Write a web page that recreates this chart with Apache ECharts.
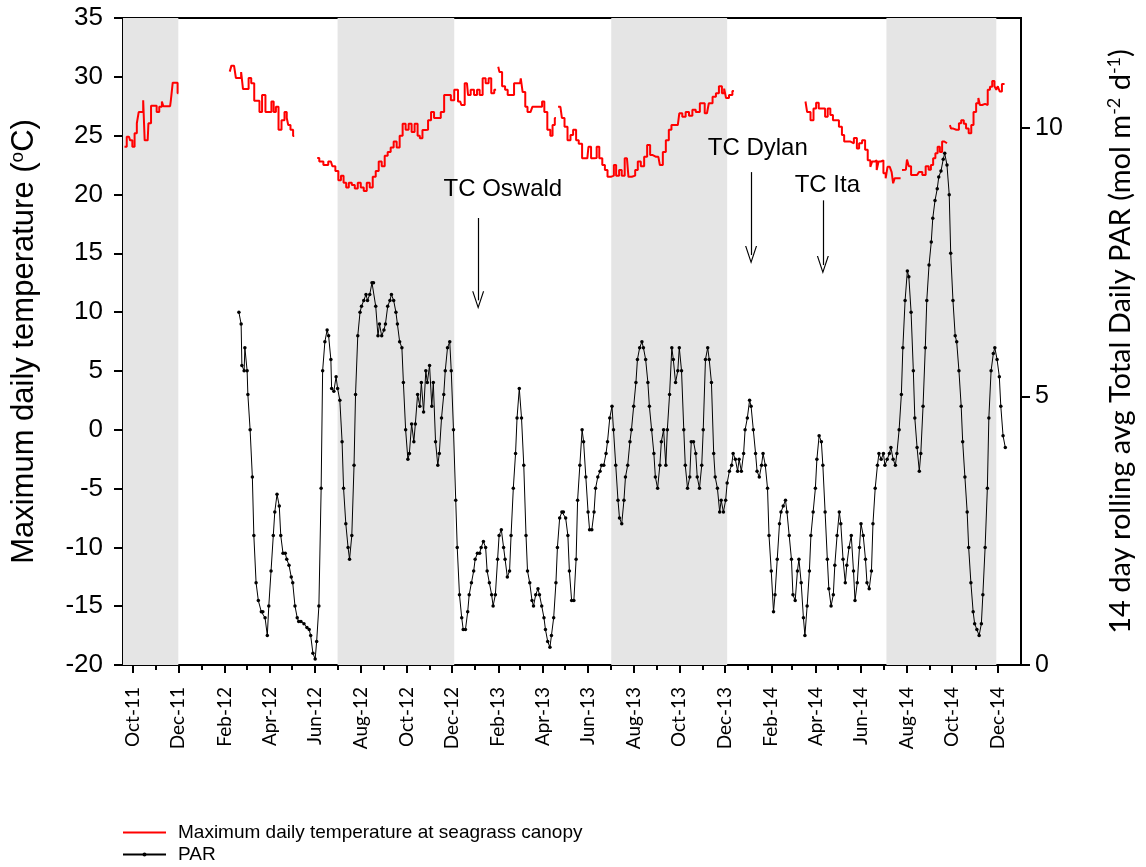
<!DOCTYPE html>
<html>
<head>
<meta charset="utf-8">
<script src="https://cdn.jsdelivr.net/npm/echarts@6/dist/echarts.min.js"></script>
<style>
html, body { margin: 0; padding: 0; background: #fff; }
#chart { width: 1146px; height: 867px; }
</style>
</head>
<body>
<div id="chart"></div>
<script>
// Day numbers count from 1 October 2011 (day 0).
// Maximum daily temperature at the seagrass canopy (deg C); null marks the edges of logger gaps.
const tempDay = [
  -11, -5, -2, 1, 4, 7, 9, 13, 15, 17, 20, 22, 27, 31, 33, 38, 40, 42, 50, 52, 55, 59, 61,
  61.5, 129.5,
  130, 134, 137, 139, 144, 146, 149, 153, 157, 160, 165, 168, 171, 175, 180, 184, 187, 190, 193, 197, 201, 205, 207, 209, 213, 216,
  216.5, 246.5,
  247, 252, 258, 265, 269, 273, 277, 280, 284, 287, 291, 295, 299, 303, 307, 311, 315, 319, 323, 327, 331, 335, 339, 343, 347, 351, 355, 359, 363, 367, 371, 375, 379, 383, 385, 390, 393, 397, 401, 405, 410, 414, 419, 423, 428, 432, 438, 441, 447, 450, 454, 459, 462, 466, 470, 474, 478, 481, 486,
  486.3, 488.7,
  489, 492, 496, 500, 503, 508, 512, 518, 520, 523, 527, 529, 532, 537, 541, 546, 549, 552, 557, 560, 563, 566,
  566.3, 568.7,
  569, 572, 576, 579, 584, 587, 591, 595, 598, 604, 608, 611, 615, 619, 622, 626, 630, 633, 637, 642, 645, 648, 653, 655, 661, 665, 670, 674, 677, 682, 686, 690, 694, 697, 703, 707, 711, 715, 719, 722, 729, 733, 737, 742, 746, 751, 755, 762, 768, 773, 778, 782, 786, 790, 792, 795, 800, 804,
  804.5, 899.5,
  900, 904, 909, 912, 916, 919, 924, 928, 931, 935, 938, 942, 947, 950, 953, 958, 962, 967, 970, 973, 978, 981, 985, 988, 990, 994, 996, 999, 1002, 1006, 1008, 1011, 1014, 1016, 1018, 1020, 1027,
  1027.3, 1028.7,
  1029, 1034, 1037, 1039, 1043, 1049, 1054, 1058, 1063, 1066, 1069, 1072, 1075, 1078, 1081, 1084, 1087, 1089,
  1089.3, 1092.7,
  1093, 1096, 1099, 1104, 1106, 1110, 1113, 1116, 1120, 1123, 1126, 1130, 1132, 1134, 1138, 1142, 1145, 1148, 1151, 1154, 1156, 1158, 1161, 1164, 1166
];
const tempC = [
  24.05, 24.9, 24.6, 24.05, 25.2, 26.05, 27.0, 27.0, 28.0, 24.6, 24.6, 26.05, 27.55, 27.55, 27.0, 27.45, 27.9, 27.5, 27.5, 28.0, 29.5, 29.5, 28.6,
  null, null,
  30.44, 30.95, 30.95, 29.9, 29.9, 30.4, 28.96, 28.96, 29.9, 29.45, 27.97, 27.97, 27.0, 28.45, 27.0, 27.0, 27.9, 27.0, 27.45, 25.5, 26.3, 27.0, 26.5, 25.9, 25.5, 24.97,
  null, null,
  23.1, 22.8, 22.5, 22.8, 22.4, 22.0, 21.2, 21.6, 21.0, 20.6, 21.0, 20.8, 20.5, 21.0, 20.6, 20.3, 21.0, 20.6, 21.5, 22.0, 22.8, 22.4, 23.3, 23.6, 24.0, 24.5, 24.0, 25.0, 26.0, 25.5, 26.0, 25.3, 26.0, 25.0, 24.77, 25.48, 25.5, 26.3, 27.0, 26.5, 26.5, 27.0, 28.45, 28.45, 28.0, 28.9, 27.9, 27.6, 29.45, 28.45, 28.9, 28.45, 28.9, 28.45, 29.87, 29.45, 29.87, 28.6, 28.9,
  null, null,
  30.86, 30.4, 29.2, 28.9, 28.45, 28.45, 29.45, 29.45, 29.87, 28.7, 27.45, 27.0, 27.0, 27.45, 27.45, 27.45, 27.9, 27.0, 25.5, 25.0, 25.9, 26.5,
  null, null,
  27.45, 27.45, 26.5, 25.75, 24.6, 25.05, 25.5, 24.6, 24.3, 23.07, 23.07, 24.05, 23.07, 23.1, 24.05, 23.07, 22.5, 22.08, 21.5, 21.6, 22.5, 21.6, 22.08, 21.6, 23.07, 21.5, 21.6, 22.08, 22.8, 22.4, 23.2, 24.2, 23.35, 23.2, 23.2, 22.5, 23.6, 24.6, 25.5, 25.9, 25.9, 26.9, 26.6, 27.0, 26.7, 27.2, 27.0, 27.75, 26.9, 27.75, 28.3, 28.6, 29.2, 28.6, 29.0, 28.2, 28.45, 28.8,
  null, null,
  27.9, 27.0, 26.3, 27.3, 27.8, 27.3, 27.3, 26.6, 27.3, 26.75, 26.3, 26.3, 25.76, 25.05, 24.5, 24.5, 24.35, 24.8, 23.9, 24.35, 24.6, 23.8, 22.9, 22.35, 22.8, 22.9, 22.08, 22.8, 22.9, 21.8, 21.37, 22.35, 22.35, 21.9, 20.95, 21.37, 21.37,
  null, null,
  22.08, 22.1, 22.97, 22.4, 21.65, 21.65, 21.9, 21.65, 22.4, 22.1, 22.5, 23.07, 23.5, 24.05, 23.6, 24.5, 24.5, 24.35,
  null, null,
  25.9, 25.6, 25.5, 25.5, 26.05, 26.3, 26.0, 25.6, 25.2, 25.9, 27.0, 27.75, 28.2, 27.6, 27.7, 27.6, 28.9, 29.15, 29.65, 29.2, 28.9, 29.2, 28.75, 29.4, 29.4
];

// 14 day rolling average of total daily PAR (mol m-2 d-1).
const parDay = [
  142, 145, 146, 149, 150, 153, 154, 157, 160, 162, 165, 168, 172, 174, 177, 180, 182, 185, 188, 190, 193, 196, 198, 201, 204, 206, 209, 212, 214, 217, 220, 222, 225, 229, 233, 236, 238, 241, 244, 246, 249, 252, 254, 257, 260, 262, 265, 266, 269, 272, 274, 277, 280, 282, 285, 288, 290, 293, 296, 298,
  301, 304, 306, 309, 312, 314, 317, 320, 322, 325, 328, 330, 333, 336, 338, 341, 344, 346, 349, 352, 354, 357, 360, 362, 365, 368, 370, 373, 376, 378, 381, 384, 386, 389, 392, 394, 397, 400, 402, 405, 408, 410, 413, 416, 418, 421, 424, 426, 429, 432, 434, 437, 440, 442, 445, 448, 450, 453, 456, 458,
  461, 464, 466, 469, 472, 474, 477, 480, 482, 485, 488, 490, 493, 496, 498, 501, 504, 506, 509, 512, 514, 517, 520, 523, 526, 528, 531, 534, 536, 539, 542, 544, 547, 550, 552, 555, 558, 560, 563, 566, 568, 571, 574, 576, 579, 582, 584, 587, 590, 593, 595, 598, 601, 603, 606, 609, 611, 614, 617, 619,
  622, 625, 627, 630, 633, 635, 638, 641, 643, 646, 649, 651, 654, 657, 659, 662, 665, 667, 670, 673, 675, 678, 681, 683, 686, 689, 691, 694, 697, 699, 702, 705, 707, 710, 713, 715, 718, 721, 723, 726, 729, 731, 734, 737, 739, 742, 745, 747, 750, 753, 755, 758, 761, 763, 766, 769, 771, 774, 777, 779,
  782, 785, 787, 790, 793, 795, 798, 801, 803, 806, 809, 811, 814, 817, 819, 822, 825, 827, 830, 833, 835, 838, 841, 843, 846, 849, 851, 854, 857, 859, 862, 865, 867, 870, 873, 875, 878, 881, 883, 886, 889, 891, 894, 897, 899, 902, 905, 907, 910, 913, 915, 918, 921, 923, 926, 929, 931, 934, 937, 939,
  942, 945, 947, 950, 953, 955, 958, 961, 964, 966, 969, 972, 974, 977, 980, 982, 985, 988, 990, 993, 996, 998, 1001, 1004, 1006, 1009, 1012, 1014, 1017, 1020, 1022, 1025, 1028, 1030, 1033, 1036, 1038, 1041, 1044, 1046, 1049, 1052, 1054, 1057, 1060, 1062, 1065, 1068, 1070, 1073, 1076, 1078, 1081, 1084, 1086, 1089, 1092, 1094, 1097, 1100,
  1102, 1105, 1108, 1110, 1113, 1116, 1118, 1121, 1124, 1126, 1129, 1132, 1135, 1137, 1140, 1143, 1145, 1148, 1151, 1153, 1156, 1159, 1161, 1164, 1167
];
const parValue = [
  6.57, 6.35, 5.58, 5.48, 5.91, 5.48, 5.04, 4.38, 3.50, 2.41, 1.53, 1.20, 0.99, 0.99, 0.88, 0.55, 1.10, 1.75, 2.41, 2.85, 3.18, 2.96, 2.41, 2.08, 2.08, 1.97, 1.86, 1.64, 1.53, 1.10, 0.88, 0.81, 0.81, 0.77, 0.70, 0.66, 0.55, 0.22, 0.11, 0.44, 1.10, 3.29, 5.48, 6.02, 6.24, 6.13, 5.69, 5.15, 5.10, 5.37, 5.15, 4.93, 4.16, 3.29, 2.63, 2.19, 1.97, 2.41, 3.72, 5.04,
  6.13, 6.57, 6.68, 6.79, 6.90, 6.79, 6.90, 7.12, 7.12, 6.68, 6.13, 6.35, 6.13, 6.24, 6.35, 6.68, 6.79, 6.90, 6.79, 6.57, 6.35, 6.02, 5.91, 5.26, 4.38, 3.83, 3.94, 4.49, 4.16, 4.49, 5.04, 4.82, 5.26, 4.71, 5.48, 5.26, 5.58, 4.82, 5.26, 4.16, 3.72, 3.94, 4.60, 5.04, 5.48, 5.91, 6.02, 5.48, 4.38, 3.07, 2.19, 1.31, 0.88, 0.66, 0.66, 0.99, 1.31, 1.53, 1.75, 1.97,
  2.08, 2.08, 2.19, 2.30, 2.19, 1.75, 1.53, 1.31, 1.10, 1.31, 1.97, 2.41, 2.52, 2.19, 1.97, 1.64, 1.75, 2.41, 3.29, 3.94, 4.60, 5.15, 4.60, 3.72, 2.41, 1.75, 1.53, 1.20, 1.10, 1.31, 1.42, 1.31, 1.10, 0.88, 0.66, 0.44, 0.33, 0.55, 0.88, 1.53, 2.19, 2.74, 2.85, 2.85, 2.74, 2.41, 1.75, 1.20, 1.20, 1.97, 3.07, 3.72, 4.38, 4.16, 3.50, 2.85, 2.52, 2.52, 2.85, 3.29,
  3.50, 3.61, 3.72, 3.72, 3.94, 4.16, 4.60, 4.82, 4.38, 3.72, 3.07, 2.74, 2.63, 3.07, 3.50, 3.72, 4.16, 4.38, 4.82, 5.26, 5.69, 5.91, 6.02, 5.91, 5.69, 5.26, 4.82, 4.38, 3.94, 3.50, 3.29, 3.72, 4.16, 4.38, 3.72, 4.38, 5.04, 5.91, 5.69, 5.26, 5.48, 5.91, 5.48, 4.38, 3.72, 3.29, 3.50, 4.16, 4.16, 3.94, 3.50, 3.29, 3.72, 4.38, 5.69, 5.91, 5.69, 5.26, 3.94, 3.50,
  3.29, 2.85, 3.07, 2.85, 3.07, 3.39, 3.61, 3.72, 3.94, 3.83, 3.61, 3.83, 3.61, 3.94, 4.38, 4.60, 4.93, 4.82, 4.38, 3.94, 3.61, 3.50, 3.72, 3.94, 3.72, 3.29, 2.41, 1.75, 0.99, 1.31, 1.97, 2.63, 2.85, 2.96, 3.07, 2.85, 2.41, 1.97, 1.31, 1.20, 1.75, 1.97, 1.53, 0.88, 0.55, 1.10, 1.75, 2.41, 2.85, 3.29, 3.83, 4.27, 4.16, 3.72, 2.85, 1.97, 1.42, 1.10, 1.31, 1.86,
  2.41, 2.85, 2.63, 1.97, 1.53, 1.86, 2.19, 2.41, 1.75, 1.20, 1.53, 2.19, 2.63, 2.41, 1.97, 1.53, 1.42, 1.75, 2.63, 3.29, 3.72, 3.94, 3.83, 3.94, 3.72, 3.83, 3.94, 4.05, 3.83, 3.72, 3.94, 4.38, 5.04, 5.91, 6.79, 7.34, 7.23, 6.57, 5.48, 4.60, 4.05, 3.61, 3.94, 4.82, 5.91, 6.79, 7.45, 7.88, 8.32, 8.65, 8.87, 9.09, 9.20, 9.42, 9.53, 9.31, 8.76, 7.67, 6.79, 6.13,
  6.02, 5.48, 4.82, 4.16, 3.50, 2.85, 2.19, 1.53, 0.99, 0.77, 0.66, 0.55, 0.77, 1.31, 2.19, 3.29, 4.60, 5.48, 5.80, 5.91, 5.69, 5.37, 4.82, 4.27, 4.05
];

// Axis ticks: labelled every second month, plain ticks on the months between.
const majorTicks = ['2011-10', '2011-12', '2012-02', '2012-04', '2012-06', '2012-08', '2012-10', '2012-12',
  '2013-02', '2013-04', '2013-06', '2013-08', '2013-10', '2013-12', '2014-02', '2014-04', '2014-06', '2014-08', '2014-10', '2014-12'];
const minorTicks = ['2011-11', '2012-01', '2012-03', '2012-05', '2012-07', '2012-09', '2012-11',
  '2013-01', '2013-03', '2013-05', '2013-07', '2013-09', '2013-11', '2014-01', '2014-03', '2014-05', '2014-07', '2014-09', '2014-11'];
const monthNames = ['Jan', 'Feb', 'Mar', 'Apr', 'May', 'Jun', 'Jul', 'Aug', 'Sep', 'Oct', 'Nov', 'Dec'];
const parTicks = [0, 5, 10];

// Shaded dry-season periods.
const bandStart = ['2011-09-18', '2012-07-01', '2013-07-02', '2014-07-05'];
const bandEnd = ['2011-12-01', '2012-12-04', '2013-12-04', '2014-11-29'];

// Tropical cyclones: label centre and arrow (temperature-axis units).
const cycloneNames = ['TC Oswald', 'TC Dylan', 'TC Ita'];
const cycloneLabelDay = [495, 836, 929];
const cycloneLabelAt = [20.4, 23.95, 20.8];
const cycloneArrowDay = [462, 827, 923];
const cycloneArrowTop = [18.0, 21.9, 19.5];
const cycloneArrowTip = [11.0, 14.85, 14.0];

const axisStart = -13;   // 18 Sep 2011
const axisEnd = 1188;    // 1 Jan 2015

const TEMP_NAME = 'Maximum daily temperature at seagrass canopy';
const PAR_NAME = 'PAR';

function dayTime(d) { return new Date(2011, 9, 1).getTime() + d * 86400000; }
function monthTime(s) { const p = s.split('-'); return new Date(+p[0], +p[1] - 1, 1).getTime(); }
function dateTime(s) { const p = s.split('-'); return new Date(+p[0], +p[1] - 1, +p[2]).getTime(); }

const tempData = tempDay.map((d, i) => [dayTime(d), tempC[i] === null ? '-' : tempC[i]]);
const parData = parDay.map((d, i) => [dayTime(d), parValue[i]]);
const majorTimes = majorTicks.map(monthTime);
const minorTimes = minorTicks.map(monthTime);
const bands = bandStart.map((s, i) => [{ xAxis: dateTime(s) }, { xAxis: dateTime(bandEnd[i]) }]);

const ARIAL = '"Liberation Sans", Arial, sans-serif';
const CALIBRI = 'Lato, "Open Sans", sans-serif';
const black = { color: '#000', width: 2 };

const chart = echarts.init(document.getElementById('chart'), null, { renderer: 'canvas' });

const option = {
  animation: false,
  backgroundColor: '#fff',
  grid: { left: 122, right: 125, top: 18, bottom: 202, show: true, borderColor: '#000', borderWidth: 2, backgroundColor: 'transparent' },
  legend: {
    data: [
      { name: TEMP_NAME, itemStyle: { color: 'rgba(0,0,0,0)', borderWidth: 0 } },
      { name: PAR_NAME }
    ],
    orient: 'vertical', left: 122, top: 822, padding: 0,
    itemWidth: 43, itemHeight: 5, itemGap: 1,
    textStyle: { fontFamily: ARIAL, fontSize: 19, color: '#000', lineHeight: 21, padding: [0, 0, 0, 7] }
  },
  xAxis: [
    {
      type: 'value', min: dayTime(axisStart), max: dayTime(axisEnd),
      axisLine: { show: true, onZero: false, lineStyle: black },
      axisTick: { show: true, customValues: majorTimes, length: 8, lineStyle: black },
      axisLabel: {
        customValues: majorTimes, rotate: 90, margin: 22,
        fontFamily: CALIBRI, fontSize: 19, color: '#000',
        formatter: v => { const d = new Date(v); return monthNames[d.getMonth()] + '-' + String(d.getFullYear()).slice(2); }
      },
      splitLine: { show: false }
    },
    {
      type: 'value', min: dayTime(axisStart), max: dayTime(axisEnd), position: 'bottom',
      axisLine: { show: false, onZero: false },
      axisTick: { show: true, customValues: minorTimes, length: 5, lineStyle: black },
      axisLabel: { show: false },
      splitLine: { show: false }
    }
  ],
  yAxis: [
    {
      type: 'value', min: -20, max: 35, interval: 5, position: 'left',
      axisLine: { show: true, onZero: false, lineStyle: black },
      axisTick: { show: true, length: 9, lineStyle: black },
      axisLabel: { fontFamily: ARIAL, fontSize: 26, color: '#000', margin: 20 },
      splitLine: { show: false },
      name: 'Maximum daily temperature ({sup|o}C)',
      nameLocation: 'middle', nameRotate: 90, nameGap: 82,
      nameTextStyle: {
        fontFamily: ARIAL, fontSize: 31, color: '#000',
        rich: { sup: { fontFamily: ARIAL, fontSize: 19, color: '#000', verticalAlign: 'bottom', padding: [0, 0, 14, 0] } }
      }
    },
    {
      type: 'value', min: 0, max: 12.05, position: 'right',
      axisLine: { show: true, onZero: false, lineStyle: black },
      axisTick: { show: true, customValues: parTicks, length: 9, lineStyle: black },
      axisLabel: { customValues: parTicks, fontFamily: ARIAL, fontSize: 25, color: '#000', margin: 14 },
      splitLine: { show: false },
      name: '14 day rolling avg Total Daily PAR (mol m{sup|-2} d{sup|-1})',
      nameLocation: 'middle', nameRotate: 90, nameGap: 84,
      nameTextStyle: {
        fontFamily: CALIBRI, fontSize: 29, color: '#000',
        rich: { sup: { fontFamily: CALIBRI, fontSize: 18, color: '#000', verticalAlign: 'bottom', padding: [0, 0, 14, 0] } }
      }
    }
  ],
  series: [
    {
      name: 'bands', type: 'line', data: [], z: 1, silent: true,
      markArea: { silent: true, itemStyle: { color: '#e5e5e5' }, data: bands }
    },
    {
      name: TEMP_NAME, type: 'line', step: 'middle',
      xAxisIndex: 0, yAxisIndex: 0, data: tempData, connectNulls: false,
      symbol: 'none', lineStyle: { color: '#ff0000', width: 2 }, itemStyle: { color: '#ff0000' }, z: 3,
      markLine: {
        silent: true, symbol: ['none', 'path://M0,10 L5,0 L10,10 L9,10 L5,2 L1,10 Z'], symbolSize: [12, 18],
        lineStyle: { color: '#000', width: 1.2, type: 'solid' }, label: { show: false },
        data: cycloneNames.map((n, i) => [
          { coord: [dayTime(cycloneArrowDay[i]), cycloneArrowTop[i]] },
          { coord: [dayTime(cycloneArrowDay[i]), cycloneArrowTip[i]] }
        ])
      },
      markPoint: {
        silent: true, symbol: 'circle', symbolSize: 1, itemStyle: { color: 'rgba(0,0,0,0)' },
        label: { show: true, position: 'inside', fontFamily: ARIAL, fontSize: 24, color: '#000', formatter: p => p.name },
        data: cycloneNames.map((n, i) => ({ name: n, coord: [dayTime(cycloneLabelDay[i]), cycloneLabelAt[i]] }))
      }
    },
    {
      name: PAR_NAME, type: 'line', xAxisIndex: 0, yAxisIndex: 1, data: parData,
      symbol: 'circle', symbolSize: 3.5, showSymbol: true, showAllSymbol: true,
      lineStyle: { color: '#000', width: 1 }, itemStyle: { color: '#000' }, z: 4
    }
  ]
};

chart.setOption(option);
</script>
</body>
</html>
